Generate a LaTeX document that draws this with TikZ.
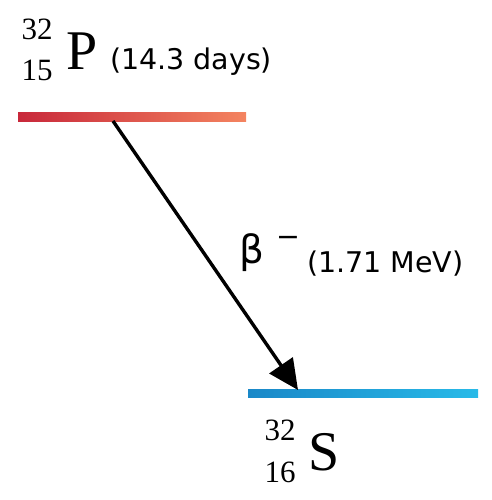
\documentclass[tikz,border=0pt]{standalone}
\usepackage{fontspec}
\setmainfont{Liberation Serif}
\newfontfamily\notefont{DejaVu Sans}
\usetikzlibrary{arrows.meta, positioning}
\definecolor{parent_dark}{RGB}{200, 40, 58}
\definecolor{parent_mid}{RGB}{236, 30, 38}
\definecolor{parent_light}{RGB}{244, 132, 96}
\definecolor{daughter_dark}{RGB}{26, 136, 200}
\definecolor{daughter_light}{RGB}{40, 186, 232}
\newcommand{\bigsize}{\fontsize{56}{56}\selectfont}
\newcommand{\numsize}{\fontsize{31}{31}\selectfont}
\newcommand{\notesize}{\fontsize{28.5}{28.5}\selectfont}

\begin{document}
\begin{tikzpicture}[x=1pt, y=-1pt, >=Stealth,
    every node/.style={inner sep=0pt, outer sep=0pt},
    level/.style={minimum width=228pt, minimum height=8pt},
    nucnum/.style={font=\numsize, anchor=base},
    note/.style={font=\notefont\notesize, anchor=base west}]
  \useasboundingbox (0,0) rectangle (491,500);

  % energy levels
  \node[level, left color=parent_dark, middle color=parent_mid,
        right color=parent_light] (ptop) at (132,117) {};
  \node[level, left color=daughter_dark, right color=daughter_light,
        minimum width=230pt] (sbot) at (363,393) {};

  % parent nuclide
  \node[nucnum] (pmass) at (37,40) {32};
  \node[nucnum] (patom) at (37,81) {15};
  \node[font=\bigsize, anchor=base west] (pname) at (66,70) {P};
  \node[note] (plife) at (110,70) {(14.3 days)};

  % daughter nuclide
  \node[nucnum] (smass) at (280,440) {32};
  \node[nucnum] (satom) at (280,482) {16};
  \node[font=\bigsize, anchor=base west] (sname) at (308,470) {S};

  % decay
  \coordinate (dstart) at (113,121);
  \coordinate (dend) at (298,390);
  \draw[line width=3.4pt, -{Triangle[length=30pt, width=28pt]}] (dstart) -- (dend);
  \node[font=\notefont\fontsize{39}{39}\selectfont, anchor=base west] (beta) at (239,263) {β};
  \node[font=\notefont\notesize, anchor=base west] (bminus) at (276,246) {−};
  \node[note] (benergy) at (307,272) {(1.71 MeV)};
\end{tikzpicture}
\end{document}
